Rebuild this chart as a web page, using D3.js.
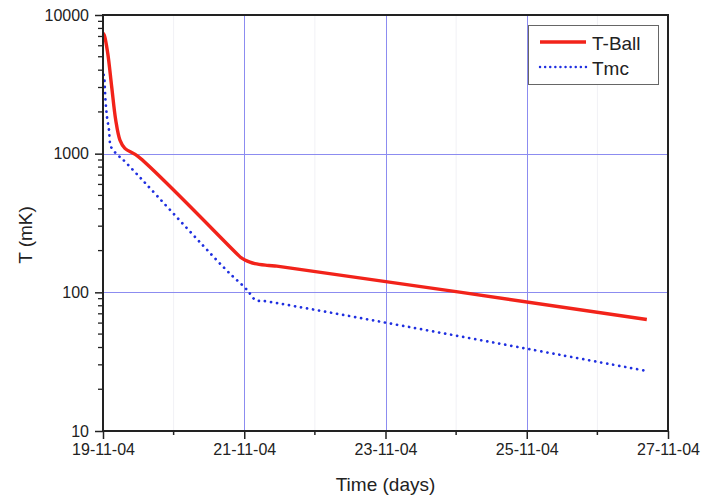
<!DOCTYPE html>
<html>
<head>
<meta charset="utf-8">
<script src="https://cdn.jsdelivr.net/npm/d3@7"></script>
<style>
  html, body { margin: 0; padding: 0; background: #fff; }
  svg { display: block; font-family: "Liberation Sans", Arial, sans-serif; }
</style>
</head>
<body>
<svg id="chart" width="703" height="499"></svg>
<script>
// Cooldown log: time in days of November 2004, temperature in mK
const ballDays = [19.00, 19.018, 19.067, 19.123, 19.18, 19.24, 19.31, 19.50, 20.917, 20.96, 21.01, 21.08, 21.15, 21.30, 21.436, 26.70];
const ballTemps = [7400, 7170, 5300, 3040, 1750, 1254, 1092, 951, 185, 177, 171, 165, 161, 157, 155, 63.7];

const mcDays = [19.01, 19.018, 19.035, 19.057, 19.085, 19.113, 19.208, 19.288, 20.75, 21.01, 21.08, 21.16, 21.32, 26.68];
const mcTemps = [3700, 3510, 2440, 1836, 1479, 1122, 977, 900, 144, 108, 98, 88, 86, 27.2];

const seriesNames = ["T-Ball", "Tmc"];
const xTickLabels = ["19-11-04", "21-11-04", "23-11-04", "25-11-04", "27-11-04"];
const xMinorLabels = ["20-11-04", "22-11-04", "24-11-04", "26-11-04"];
const yTickValues = [10, 100, 1000, 10000];

const parseDate = d3.utcParse("%d-%m-%y");
const fmtDate = d3.utcFormat("%d-%m-%y");
const novBase = Date.UTC(2004, 10, 0);
const toDate = d => new Date(novBase + d * 864e5);

const svg = d3.select("#chart");
const plotL = 103, plotR = 668, plotT = 15, plotB = 431;

const x = d3.scaleUtc()
  .domain([parseDate("19-11-04"), parseDate("27-11-04")])
  .range([plotL, plotR]);
const y = d3.scaleLog().domain([10, 10000]).range([plotB, plotT]);

const majorX = xTickLabels.map(parseDate);
const minorX = xMinorLabels.map(parseDate);
const minorY = [];
for (let dec = 10; dec < 10000; dec *= 10)
  for (let k = 2; k <= 9; k++) minorY.push(dec * k);

// faint minor grid
svg.append("g").selectAll("line").data(minorX).join("line")
  .attr("x1", d => x(d)).attr("x2", d => x(d))
  .attr("y1", plotT).attr("y2", plotB)
  .attr("stroke", "#f1f1f5").attr("stroke-width", 1);

// major grid
const grid = svg.append("g").attr("stroke", "#8c8cf0").attr("stroke-width", 1);
grid.selectAll(".gx").data(majorX.slice(1, -1)).join("line")
  .attr("x1", d => Math.round(x(d)) + 0.5).attr("x2", d => Math.round(x(d)) + 0.5)
  .attr("y1", plotT).attr("y2", plotB);
grid.selectAll(".gy").data(yTickValues.slice(1, -1)).join("line")
  .attr("x1", plotL).attr("x2", plotR)
  .attr("y1", d => Math.round(y(d)) + 0.5).attr("y2", d => Math.round(y(d)) + 0.5);

// series
const line = d3.line()
  .x(d => x(toDate(d[0])))
  .y(d => y(d[1]))
  .curve(d3.curveCatmullRom.alpha(0.5));

svg.append("path")
  .datum(mcDays.map((d, i) => [d, mcTemps[i]]))
  .attr("d", line)
  .attr("fill", "none")
  .attr("stroke", "#1f2fe0")
  .attr("stroke-width", 2.7)
  .attr("stroke-linecap", "round")
  .attr("stroke-dasharray", "0.1,6");

svg.append("path")
  .datum(ballDays.map((d, i) => [d, ballTemps[i]]))
  .attr("d", line)
  .attr("fill", "none")
  .attr("stroke", "#f2231a")
  .attr("stroke-width", 3.4)
  .attr("stroke-linejoin", "round");

// axes
const xAxis = d3.axisBottom(x).tickValues(majorX).tickFormat(fmtDate).tickSize(8).tickSizeOuter(0);
const gx = svg.append("g").attr("transform", `translate(0,${plotB})`).call(xAxis);
gx.selectAll("line").attr("stroke", "#222").attr("stroke-width", 1.5);
gx.select(".domain").remove();
gx.selectAll("text").attr("font-size", 16).attr("fill", "#222")
  .attr("font-family", "Liberation Sans, Arial, sans-serif").attr("dy", "0.95em").attr("y", 9);

svg.append("g").selectAll("line").data(minorX).join("line")
  .attr("x1", d => x(d)).attr("x2", d => x(d))
  .attr("y1", plotB).attr("y2", plotB + 4)
  .attr("stroke", "#222").attr("stroke-width", 1.5);

const yAxis = d3.axisLeft(y).tickValues(yTickValues).tickFormat(d3.format("d")).tickSize(8).tickSizeOuter(0);
const gy = svg.append("g").attr("transform", `translate(${plotL},0)`).call(yAxis);
gy.selectAll("line").attr("stroke", "#222").attr("stroke-width", 1.5);
gy.select(".domain").remove();
gy.selectAll("text").attr("font-size", 16).attr("fill", "#222")
  .attr("font-family", "Liberation Sans, Arial, sans-serif").attr("x", -14);

svg.append("g").selectAll("line").data(minorY).join("line")
  .attr("x1", plotL - 5).attr("x2", plotL)
  .attr("y1", d => y(d)).attr("y2", d => y(d))
  .attr("stroke", "#222").attr("stroke-width", 1.3);

// frame
svg.append("rect")
  .attr("x", plotL).attr("y", plotT)
  .attr("width", plotR - plotL).attr("height", plotB - plotT)
  .attr("fill", "none").attr("stroke", "#222").attr("stroke-width", 2);

// axis titles
svg.append("text")
  .attr("x", (plotL + plotR) / 2).attr("y", 491)
  .attr("text-anchor", "middle").attr("font-size", 19).attr("fill", "#222")
  .text("Time (days)");
svg.append("text")
  .attr("transform", `translate(32,${(plotT + plotB) / 2 + 12}) rotate(-90)`)
  .attr("text-anchor", "middle").attr("font-size", 19).attr("fill", "#222")
  .text("T (mK)");

// legend
const lg = svg.append("g");
lg.append("rect").attr("x", 528.5).attr("y", 25.5).attr("width", 130).attr("height", 59)
  .attr("fill", "#fff").attr("stroke", "#666").attr("stroke-width", 1);
const legendStyles = [
  { color: "#f2231a", width: 3.4, dash: null },
  { color: "#1f2fe0", width: 2.4, dash: "0.1,5" }
];
seriesNames.forEach((name, i) => {
  const yy = 42 + i * 25;
  const s = legendStyles[i];
  const l = lg.append("line").attr("x1", 540).attr("x2", 586).attr("y1", yy).attr("y2", yy)
    .attr("stroke", s.color).attr("stroke-width", s.width);
  if (s.dash) l.attr("stroke-dasharray", s.dash).attr("stroke-linecap", "round");
  lg.append("text").attr("x", 592).attr("y", yy + 7.5)
    .attr("font-size", 19).attr("fill", "#222").text(name);
});
</script>
</body>
</html>
